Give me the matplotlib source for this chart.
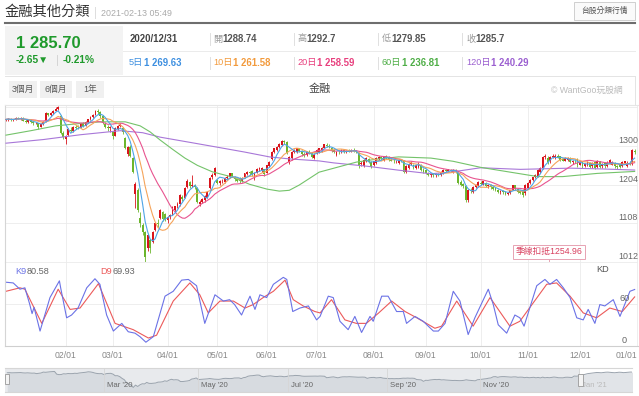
import matplotlib
matplotlib.use("Agg")
import matplotlib.pyplot as plt
from matplotlib.lines import Line2D
from matplotlib.patches import Rectangle
import numpy as np
import pandas as pd

plt.rcParams["font.family"] = ["Liberation Sans", "Noto Sans CJK TC", "DejaVu Sans"]

W, H = 639, 396

# TWSE closed days (weekdays) in the window
holidays = ["2020-01-01", "2020-01-21", "2020-01-22", "2020-01-23", "2020-01-24",
            "2020-01-27", "2020-01-28", "2020-01-29", "2020-02-28", "2020-04-02",
            "2020-04-03", "2020-05-01", "2020-06-25", "2020-06-26", "2020-10-01",
            "2020-10-02", "2020-10-09"]

# daily candles (open, high, low, close)
dec19 = [(1365, 1368, 1362, 1366), (1366, 1370, 1363, 1368), (1368, 1370, 1362, 1364),
         (1364, 1368, 1361, 1366), (1366, 1371, 1364, 1370), (1370, 1373, 1366, 1368),
         (1368, 1372, 1365, 1370), (1370, 1371, 1362, 1363), (1363, 1366, 1358, 1360)]
jan20 = [(1360, 1366, 1358, 1364), (1364, 1367, 1358, 1360), (1360, 1362, 1353, 1356),
         (1356, 1360, 1354, 1358), (1357, 1358, 1342, 1346), (1348, 1356, 1347, 1354),
         (1354, 1362, 1352, 1360), (1362, 1384, 1360, 1381), (1381, 1383, 1374, 1376),
         (1376, 1385, 1374, 1383), (1382, 1390, 1380, 1388), (1388, 1396, 1386, 1393),
         (1393, 1399, 1390, 1396), (1375, 1378, 1330, 1332), (1332, 1338, 1318, 1322)]
feb20 = [(1318, 1328, 1306, 1325), (1328, 1345, 1326, 1342), (1340, 1346, 1334, 1338),
         (1338, 1350, 1336, 1348), (1348, 1352, 1343, 1345), (1350, 1353, 1343, 1346),
         (1346, 1356, 1344, 1354), (1356, 1360, 1348, 1350), (1350, 1362, 1349, 1360),
         (1360, 1368, 1357, 1366), (1366, 1375, 1364, 1372), (1372, 1380, 1369, 1378),
         (1378, 1390, 1376, 1388), (1388, 1391, 1380, 1384), (1384, 1387, 1370, 1374),
         (1374, 1376, 1355, 1358), (1355, 1360, 1344, 1348), (1348, 1352, 1338, 1344),
         (1344, 1350, 1335, 1346)]
mar20 = [(1335, 1338, 1318, 1324), (1326, 1348, 1324, 1345), (1342, 1352, 1340, 1350),
         (1350, 1356, 1346, 1352), (1345, 1348, 1330, 1334), (1320, 1322, 1292, 1296),
         (1280, 1300, 1275, 1298), (1298, 1302, 1272, 1276), (1270, 1272, 1232, 1236),
         (1180, 1210, 1146, 1205), (1190, 1195, 1135, 1140), (1122, 1135, 1100, 1108),
         (1104, 1110, 1080, 1086), (1086, 1090, 1012, 1024), (1046, 1082, 1040, 1079),
         (1066, 1070, 1034, 1047), (1062, 1088, 1058, 1086), (1092, 1112, 1090, 1110),
         (1110, 1118, 1100, 1106), (1122, 1144, 1118, 1141), (1135, 1138, 1115, 1120),
         (1130, 1134, 1114, 1118)]
apr20 = [(1116, 1126, 1110, 1123), (1123, 1132, 1120, 1128), (1130, 1150, 1128, 1148),
         (1140, 1152, 1136, 1150), (1150, 1160, 1146, 1156), (1155, 1180, 1152, 1178),
         (1174, 1178, 1164, 1168), (1172, 1198, 1170, 1196), (1198, 1218, 1196, 1214),
         (1210, 1212, 1196, 1200), (1200, 1228, 1198, 1204), (1204, 1206, 1194, 1198),
         (1196, 1198, 1158, 1162), (1155, 1166, 1150, 1162), (1162, 1172, 1158, 1168),
         (1165, 1178, 1162, 1175), (1172, 1188, 1170, 1186), (1196, 1222, 1194, 1220),
         (1222, 1232, 1218, 1228), (1228, 1248, 1226, 1245)]
may20 = [(1216, 1218, 1206, 1208), (1208, 1216, 1204, 1212), (1212, 1218, 1208, 1214),
         (1211, 1222, 1208, 1220), (1220, 1228, 1218, 1224), (1222, 1234, 1220, 1232),
         (1232, 1234, 1222, 1225), (1224, 1226, 1214, 1217), (1217, 1220, 1210, 1214),
         (1220, 1222, 1208, 1212), (1212, 1222, 1210, 1220), (1222, 1234, 1220, 1232),
         (1230, 1238, 1228, 1236), (1236, 1238, 1228, 1232), (1238, 1240, 1226, 1230),
         (1224, 1236, 1215, 1234), (1234, 1246, 1232, 1244), (1242, 1248, 1238, 1245),
         (1240, 1248, 1236, 1246), (1242, 1244, 1226, 1230)]
jun20 = [(1234, 1254, 1232, 1252), (1250, 1262, 1248, 1260), (1268, 1288, 1266, 1285),
         (1284, 1296, 1282, 1295), (1290, 1300, 1288, 1298), (1298, 1308, 1296, 1306),
         (1303, 1314, 1300, 1312), (1312, 1316, 1305, 1310), (1310, 1312, 1280, 1283),
         (1260, 1276, 1255, 1273), (1270, 1288, 1266, 1285), (1285, 1292, 1282, 1290),
         (1285, 1296, 1283, 1294), (1294, 1296, 1284, 1287), (1287, 1290, 1276, 1280),
         (1280, 1284, 1272, 1278), (1278, 1288, 1276, 1285), (1285, 1290, 1280, 1283),
         (1282, 1284, 1270, 1273), (1270, 1282, 1268, 1278)]
jul20 = [(1282, 1292, 1280, 1290), (1285, 1296, 1283, 1295), (1290, 1298, 1286, 1296),
         (1296, 1306, 1294, 1304), (1302, 1308, 1298, 1300), (1300, 1305, 1294, 1298),
         (1296, 1298, 1286, 1288), (1290, 1292, 1282, 1284), (1278, 1288, 1276, 1285),
         (1285, 1290, 1280, 1284), (1284, 1292, 1282, 1289), (1289, 1292, 1282, 1286),
         (1286, 1290, 1282, 1288), (1288, 1292, 1284, 1286), (1286, 1292, 1284, 1290),
         (1290, 1294, 1284, 1288), (1288, 1290, 1282, 1285), (1283, 1285, 1246, 1250),
         (1255, 1262, 1250, 1258), (1250, 1268, 1248, 1265), (1262, 1272, 1260, 1270),
         (1268, 1270, 1258, 1260), (1260, 1262, 1246, 1248)]
aug20 = [(1252, 1264, 1250, 1262), (1258, 1272, 1256, 1270), (1268, 1276, 1266, 1272),
         (1272, 1276, 1266, 1270), (1266, 1276, 1264, 1274), (1274, 1278, 1268, 1271),
         (1272, 1274, 1264, 1266), (1266, 1270, 1262, 1264), (1264, 1268, 1258, 1262),
         (1262, 1266, 1258, 1264), (1258, 1268, 1256, 1265), (1265, 1268, 1260, 1262),
         (1264, 1266, 1232, 1236), (1236, 1252, 1234, 1250), (1246, 1258, 1244, 1256),
         (1256, 1262, 1252, 1258), (1254, 1256, 1244, 1246), (1246, 1254, 1244, 1252),
         (1248, 1260, 1246, 1256), (1254, 1256, 1238, 1241), (1241, 1246, 1232, 1236)]
sep20 = [(1240, 1242, 1230, 1234), (1234, 1236, 1226, 1228), (1228, 1234, 1224, 1230),
         (1232, 1234, 1224, 1227), (1227, 1232, 1224, 1230), (1230, 1234, 1226, 1228),
         (1228, 1238, 1226, 1235), (1233, 1242, 1230, 1240), (1240, 1244, 1236, 1238),
         (1238, 1244, 1236, 1242), (1240, 1244, 1236, 1238), (1236, 1244, 1234, 1240),
         (1240, 1242, 1232, 1235), (1234, 1236, 1205, 1208), (1210, 1215, 1200, 1204),
         (1206, 1208, 1196, 1200), (1200, 1204, 1162, 1166), (1166, 1194, 1160, 1191),
         (1190, 1196, 1184, 1188), (1186, 1200, 1183, 1198), (1198, 1206, 1196, 1203),
         (1200, 1212, 1198, 1210)]
oct20 = [(1208, 1214, 1202, 1206), (1204, 1214, 1202, 1212), (1208, 1210, 1198, 1200),
         (1200, 1206, 1196, 1203), (1203, 1206, 1194, 1197), (1197, 1200, 1190, 1194),
         (1196, 1198, 1188, 1191), (1192, 1194, 1184, 1186), (1186, 1190, 1182, 1188),
         (1188, 1192, 1182, 1185), (1185, 1188, 1178, 1182), (1182, 1186, 1178, 1184),
         (1184, 1192, 1182, 1190), (1192, 1204, 1190, 1202), (1202, 1204, 1190, 1193),
         (1193, 1195, 1184, 1187), (1188, 1190, 1180, 1183), (1192, 1194, 1174, 1178),
         (1183, 1205, 1178, 1203)]
nov20 = [(1196, 1210, 1194, 1208), (1208, 1218, 1206, 1216), (1216, 1224, 1214, 1222),
         (1222, 1230, 1220, 1228), (1224, 1242, 1222, 1240), (1236, 1248, 1234, 1246),
         (1246, 1276, 1244, 1272), (1272, 1280, 1268, 1276), (1270, 1274, 1256, 1260),
         (1262, 1274, 1258, 1272), (1272, 1280, 1270, 1276), (1270, 1280, 1268, 1276),
         (1276, 1280, 1270, 1272), (1274, 1276, 1264, 1266), (1268, 1270, 1262, 1264),
         (1264, 1272, 1262, 1270), (1266, 1272, 1264, 1270), (1270, 1272, 1258, 1260),
         (1260, 1266, 1256, 1264), (1264, 1268, 1258, 1262), (1268, 1270, 1248, 1252)]
dec20 = [(1254, 1264, 1252, 1260), (1262, 1264, 1246, 1250), (1250, 1258, 1248, 1255),
         (1252, 1262, 1250, 1260), (1258, 1260, 1246, 1249), (1250, 1260, 1246, 1257),
         (1260, 1262, 1243, 1246), (1248, 1266, 1246, 1264), (1262, 1264, 1246, 1249),
         (1250, 1258, 1246, 1256), (1258, 1260, 1246, 1250), (1250, 1262, 1248, 1259),
         (1258, 1268, 1256, 1266), (1254, 1264, 1252, 1260), (1258, 1260, 1246, 1250),
         (1250, 1254, 1244, 1248), (1256, 1258, 1246, 1248), (1250, 1262, 1248, 1260),
         (1258, 1264, 1256, 1262), (1250, 1262, 1248, 1258), (1258, 1262, 1252, 1255),
         (1256, 1292, 1254, 1289), (1288.74, 1292.7, 1279.85, 1285.7)]

# MA60 / MA120: (trading-day index, value)
ma60_pts = [(0, 1327), (10, 1338), (20, 1350), (30, 1356), (38, 1360), (48, 1360), (54, 1350),
            (58, 1335), (62, 1315), (67, 1292), (72, 1270), (77, 1252), (83, 1236), (91, 1223),
            (98, 1205), (105, 1193), (110, 1188), (114, 1190), (118, 1203), (126, 1235),
            (132, 1245), (141, 1260), (150, 1268), (158, 1273), (171, 1270), (180, 1262),
            (191, 1247), (204, 1234), (214, 1224), (224, 1224), (238, 1232), (253, 1236.81)]
ma120_pts = [(0, 1307), (15, 1316), (30, 1328), (46, 1338), (55, 1333), (62, 1322), (75, 1308),
             (86, 1296), (96, 1285), (106, 1273), (114, 1268), (126, 1263), (132, 1258),
             (145, 1250), (158, 1240), (171, 1231), (180, 1236), (191, 1246), (207, 1242),
             (227, 1245), (240, 1243), (253, 1240.29)]

# KD(9): (trading-day index, value)
k9_pts = [(0, 91), (2.9, 90), (5.6, 81), (7.6, 83), (9.5, 60), (10.5, 46), (11.3, 55), (13.7, 21),
          (17.7, 69), (21.5, 93), (22, 83), (24.4, 40), (26.4, 44), (29, 54), (32.5, 83),
          (35.8, 96), (37.8, 88), (40.5, 44), (43.2, 21), (46.6, 32), (49.2, 20), (51.9, 18),
          (53.9, 13), (56.3, 5), (59.3, 13), (64, 71), (67.3, 78), (70.7, 94), (73.4, 95),
          (76.7, 86), (80, 32), (84.1, 73), (87.5, 64), (90, 66), (92, 59), (94.8, 44),
          (98.2, 71), (100.2, 52), (102.2, 73), (104.9, 69), (107.6, 88), (111.6, 98),
          (113, 95), (115.4, 49), (118.3, 54), (121.7, 57), (125, 37), (126.4, 42),
          (129.7, 71), (131.7, 69), (134.4, 35), (137.7, 23), (140.4, 42), (143.1, 19),
          (146.5, 42), (147.8, 35), (151.2, 71), (153.8, 71), (157.2, 49), (159.9, 49),
          (161.2, 32), (164.6, 42), (167.9, 35), (172, 21), (174, 21), (176.7, 32), (180, 78),
          (182.7, 64), (186, 16), (188.7, 40), (194.1, 81), (196.1, 59), (198.1, 30),
          (201.5, 18), (204.8, 44), (206.8, 40), (208.5, 28), (213.6, 86), (216.9, 95),
          (218.9, 88), (221.6, 95), (224.3, 83), (227, 69), (229.7, 40), (232.3, 37),
          (234.3, 52), (237, 32), (239, 59), (241, 57), (244.4, 66), (247.1, 42), (251.1, 78),
          (253, 80.58)]
d9_pts = [(0, 78), (5.6, 83), (7.6, 81), (14.4, 32), (21, 81), (25.8, 52), (29.8, 54),
          (37.2, 89), (43.9, 32), (51.2, 23), (57.3, 11), (60.6, 15), (67.3, 64), (74, 90),
          (78, 73), (81.4, 47), (86.1, 64), (91.5, 64), (96.2, 54), (99.5, 59), (103.5, 69),
          (107.6, 78), (112.3, 94), (115.6, 66), (119.6, 57), (124.3, 49), (126.4, 47),
          (131, 66), (136.4, 37), (141, 32), (145, 32), (150, 47), (155.2, 64), (160.6, 49),
          (165.3, 40), (172.6, 25), (175.3, 28), (181.4, 64), (188, 28), (194.8, 69),
          (202.8, 28), (206.8, 35), (217.6, 88), (221.6, 90), (227, 71), (232.3, 47),
          (237.7, 40), (243, 54), (248, 49), (253, 69.93)]

# navigator tail (Jan - Feb 5 2021 closes), estimated from the navigator line
nav_2021 = [1292, 1300, 1318, 1332, 1345, 1352, 1360, 1368, 1372, 1370, 1365, 1372, 1378,
            1380, 1374, 1370, 1366, 1372, 1378, 1375, 1368, 1372, 1378, 1382, 1380]

months = [dec19, jan20, feb20, mar20, apr20, may20, jun20, jul20, aug20, sep20, oct20, nov20, dec20]
ohlc = pd.DataFrame([c for m in months for c in m], columns=["open", "high", "low", "close"])
dates = [d for d in pd.bdate_range("2019-12-19", "2020-12-31") if d.strftime("%Y-%m-%d") not in holidays]
ohlc.index = pd.DatetimeIndex(dates)
idx = np.arange(len(ohlc))
N = len(ohlc)

ma5 = ohlc["close"].rolling(5, min_periods=1).mean()
ma10 = ohlc["close"].rolling(10, min_periods=1).mean()
ma20 = ohlc["close"].rolling(20, min_periods=1).mean()

C_UP, C_DN = "#d9141c", "#6cb52d"
C_MA5, C_MA10, C_MA20, C_MA60, C_MA120 = "#4ea4e6", "#f5a45a", "#e8548f", "#74c36a", "#a877d8"
C_K, C_D = "#6b72e6", "#ec5a5a"
GREEN = "#1f9a2c"


def R(x0, y0, x1, y1):
    return [x0 / W, 1 - y1 / H, (x1 - x0) / W, (y1 - y0) / H]


fig = plt.figure(figsize=(W / 100, H / 100), dpi=100)
renderer = fig.canvas.get_renderer()


def T(x, y, s, **kw):
    kw.setdefault("va", "center")
    return fig.text(x / W, 1 - y / H, s, **kw)


def after(t, y, s, gap=0.5, **kw):
    # place a text right after another one
    bb = t.get_window_extent(renderer)
    return T(bb.x1 + gap, y, s, **kw)


def L(xs, ys, **kw):
    fig.add_artist(Line2D([x / W for x in xs], [1 - y / H for y in ys],
                          transform=fig.transFigure, **kw))


def B(x0, y0, x1, y1, **kw):
    fig.add_artist(Rectangle((x0 / W, 1 - y1 / H), (x1 - x0) / W, (y1 - y0) / H,
                             transform=fig.transFigure, **kw))


# ---- header ----
T(5, 12, "金融其他分類", fontsize=10.3, color="#333333")
L([95, 95], [7, 18], color="#dddddd", lw=0.7)
T(101, 13, "2021-02-13 05:49", fontsize=6.4, color="#aaaaaa")
B(574, 2, 635, 20, fc="#fafafa", ec="#cfcfcf", lw=0.7)
T(604.5, 11, "台股分類行情", fontsize=5.6, color="#555555", ha="center")
L([5, 635], [23, 23], color="#6e6e6e", lw=1.5)

B(5, 26, 123, 75, fc="#f3f3f3", ec="none")
T(16, 44, "1 285.70", fontsize=12, fontweight="bold", color=GREEN)
T(16, 60, "-2.65▼", fontsize=7.3, fontweight="bold", color=GREEN)
L([57, 57], [55, 65], color="#d5d5d5", lw=0.7)
T(63, 60, "-0.21%", fontsize=7.3, fontweight="bold", color=GREEN)

L([123, 635], [51, 51], color="#ebebeb", lw=0.7)
for sx in [210, 294, 378, 462]:
    L([sx, sx], [33, 45], color="#e0e0e0", lw=0.7)
    L([sx, sx], [57, 69], color="#e0e0e0", lw=0.7)
T(130, 39, "2020/12/31", fontsize=6.9, fontweight="bold", color="#444444")
row1 = [(213, "開", "1288.74"), (297, "高", "1292.7"), (382, "低", "1279.85"), (466, "收", "1285.7")]
for x, lab, num in row1:
    t = T(x, 39, lab, fontsize=6.6, color="#9a9a9a")
    after(t, 39, num, fontsize=6.9, fontweight="bold", color="#555555")
row2 = [(129, "5日", "1 269.63", "#3d8fe0"), (213, "10日", "1 261.58", "#f29a3c"),
        (297, "20日", "1 258.59", "#e8407e"), (382, "60日", "1 236.81", "#4fae47"),
        (466, "120日", "1 240.29", "#9b5fd0")]
for x, lab, num, col in row2:
    t = T(x, 63, lab, fontsize=6.6, color=col)
    after(t, 63, num, fontsize=6.9, fontweight="bold", color=col)

L([5, 635], [76, 76], color="#e4e4e4", lw=0.7)
L([635, 635], [76, 105], color="#e4e4e4", lw=0.7)
for x0, x1, lab in [(9, 37, "3個月"), (40, 72, "6個月"), (76, 104, "1年")]:
    B(x0, 81, x1, 98, fc="#f0f0f0", ec="none")
    T((x0 + x1) / 2, 89.5, lab, fontsize=6.3, color="#555555", ha="center")
T(320, 89, "金融", fontsize=8, color="#444444", ha="center")
T(623, 90, "© WantGoo玩股網", fontsize=6.3, color="#bbbbbb", ha="right")

# ---- month ticks ----
darr = np.array(ohlc.index)
tick_idx = [int(np.searchsorted(darr, np.datetime64(f"2020-{m:02d}-01"))) for m in range(2, 13)] + [N]
tick_lab = [f"{m:02d}/01" for m in range(2, 13)] + ["01/01"]

# ---- main price panel ----
ax = fig.add_axes(R(5, 105, 638, 262))
ax.set_xlim(-0.4, 254.35)
ax.set_ylim(1012, 1401.8)
ax.set_yticks([1012, 1108, 1204, 1300, 1396])
ax.set_xticks(tick_idx)
ax.tick_params(length=0, labelbottom=False, labelleft=False)
ax.grid(True, color="#ebebeb", lw=0.6)
ax.set_axisbelow(True)
for s in ax.spines.values():
    s.set_visible(False)
ax.spines["left"].set_visible(True)
ax.spines["left"].set_color("#d5d5d5")
ax.spines["top"].set_visible(True)
ax.spines["top"].set_color("#e6e6e6")

o, h, l, c = ohlc["open"].values, ohlc["high"].values, ohlc["low"].values, ohlc["close"].values
cols = np.where(c >= o, C_UP, C_DN)
ax.vlines(idx, l, h, colors=cols, lw=0.6, zorder=2)
ax.bar(idx, np.maximum(np.abs(c - o), 1.2), bottom=np.minimum(o, c), width=0.75,
       color=cols, lw=0, zorder=3)

ax.plot(*zip(*ma120_pts), color=C_MA120, lw=0.8, zorder=4)
ax.plot(*zip(*ma60_pts), color=C_MA60, lw=0.8, zorder=4)
ax.plot(idx, ma20, color=C_MA20, lw=0.8, zorder=4)
ax.plot(idx, ma10, color=C_MA10, lw=0.8, zorder=4)
ax.plot(idx, ma5, color=C_MA5, lw=0.8, zorder=4)

for v in [1012, 1108, 1204, 1300]:
    ax.annotate(str(v), xy=(1, v), xycoords=("axes fraction", "data"), xytext=(-20, 1),
                textcoords="offset pixels", ha="left", va="bottom", fontsize=6.4,
                color="#666666", annotation_clip=False)

ax.vlines(218.5, 1012, 1024, color="#e7a3b3", lw=0.7, zorder=5)
ax.text(218.5, 1037, "季線扣抵1254.96", ha="center", va="center", fontsize=6.3, color="#d8405f",
        zorder=6, bbox=dict(boxstyle="square,pad=0.25", fc="white", ec="#e7a3b3", lw=0.7))

# ---- KD panel ----
ax2 = fig.add_axes(R(5, 262, 638, 345.7))
ax2.set_xlim(-0.4, 254.35)
ax2.set_ylim(0, 120)
ax2.set_yticks([0, 60, 120])
ax2.set_xticks(tick_idx)
ax2.set_xticklabels(tick_lab)
ax2.tick_params(length=0, labelleft=False, labelsize=6.2, labelcolor="#888888", pad=3.5)
ax2.get_xticklabels()[-1].set_horizontalalignment("right")
ax2.grid(True, color="#ebebeb", lw=0.6)
ax2.set_axisbelow(True)
for s in ax2.spines.values():
    s.set_visible(False)
ax2.spines["left"].set_visible(True)
ax2.spines["left"].set_color("#d5d5d5")
ax2.spines["bottom"].set_visible(True)
ax2.spines["bottom"].set_color("#cfcfcf")

ax2.plot(*zip(*d9_pts), color=C_D, lw=0.8)
ax2.plot(*zip(*k9_pts), color=C_K, lw=0.8)
for v, dx in [(60, -18), (0, -16)]:
    ax2.annotate(str(v), xy=(1, v), xycoords=("axes fraction", "data"), xytext=(dx, 1),
                 textcoords="offset pixels", ha="left", va="bottom", fontsize=6.6,
                 color="#666666", annotation_clip=False)

t = T(15, 271, "K9", fontsize=6.6, color=C_K)
after(t, 271, "80.58", fontsize=6.6, color="#666666")
t = T(100, 271, "D9", fontsize=6.6, color=C_D)
after(t, 271, "69.93", fontsize=6.6, color="#666666")
T(596, 270, "KD", fontsize=6.6, color="#555555")

# ---- navigator ----
ax3 = fig.add_axes(R(5, 368, 632, 392))
nav_close = np.concatenate([c, nav_2021])
nav_i = np.arange(len(nav_close))
ax3.set_xlim(-1, 277.7)
ax3.set_ylim(919, 1476)
ax3.fill_between(nav_i, nav_close, 919, color="#e1e4e8", lw=0)
ax3.plot(nav_i, nav_close, color="#9aa3ad", lw=0.7)
ax3.axvspan(-1, N + 0.6, color="#cdd2d8", alpha=0.45, lw=0)
nav_ticks = [int(np.searchsorted(darr, np.datetime64(f"2020-{m:02d}-01"))) for m in (3, 5, 7, 9, 11)] + [N]
nav_labs = ["Mar '20", "May '20", "Jul '20", "Sep '20", "Nov '20", "Jan '21"]
ax3.vlines(nav_ticks, 919, 1476, color="#d6d6d6", lw=0.6)
for tk, lab in zip(nav_ticks, nav_labs):
    ax3.annotate(lab, xy=(tk, 0.29), xycoords=("data", "axes fraction"), xytext=(3, 0),
                 textcoords="offset pixels", ha="left", va="center", fontsize=5.6,
                 color="#bbbbbb" if lab == "Jan '21" else "#666666")
ax3.set_xticks([])
ax3.set_yticks([])
for s in ax3.spines.values():
    s.set_visible(False)
ax3.spines["top"].set_visible(True)
ax3.spines["top"].set_color("#d6d6d6")
ax3.spines["bottom"].set_visible(True)
ax3.spines["bottom"].set_color("#d6d6d6")
B(5, 374, 9, 384, fc="#f4f4f4", ec="#999999", lw=0.6)
B(578, 374, 583, 386, fc="#f4f4f4", ec="#999999", lw=0.6)

fig.savefig("out.png", dpi=100)
